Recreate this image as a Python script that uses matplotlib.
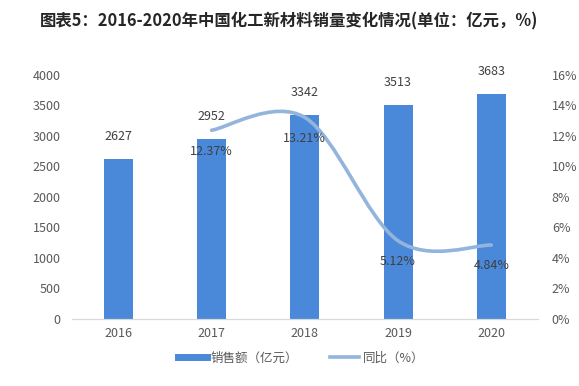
import numpy as np
import matplotlib
matplotlib.use('Agg')
import matplotlib.pyplot as plt
from matplotlib.path import Path
from matplotlib.patches import PathPatch
from matplotlib.lines import Line2D

plt.rcParams['font.family'] = ['Noto Sans CJK SC', 'DejaVu Sans']

# Data
years = ['2016', '2017', '2018', '2019', '2020']
sales = [2627, 2952, 3342, 3513, 3683]
growth_years = [1, 2, 3, 4]          # index into years
growth = [12.37, 13.21, 5.12, 4.84]  # %

BAR_COLOR = '#4a88da'
LINE_COLOR = '#93b4dc'
TEXT_COLOR = '#595959'

fig = plt.figure(figsize=(5.79, 3.86), dpi=100)
ax = fig.add_axes([0.124, 0.174, 0.805, 0.632])
ax2 = ax.twinx()

x = np.arange(len(years))
ax.bar(x, sales, width=0.31, color=BAR_COLOR, zorder=2)
for xi, v in zip(x, sales):
    ax.annotate(str(v), (xi, v), xytext=(0, 16), textcoords='offset points',
                ha='center', va='center', fontsize=9, color='#404040')

ax.set_xlim(-0.5, 4.5)
ax.set_ylim(0, 4000)
ax.set_yticks(range(0, 4001, 500))
ax.set_xticks(x)
ax.set_xticklabels(years)

# smooth line (Catmull-Rom style bezier through the points)
gx = np.array(growth_years, dtype=float)
gy = np.array(growth, dtype=float)
px = np.concatenate([[gx[0]], gx, [gx[-1]]])
py = np.concatenate([[gy[0]], gy, [gy[-1]]])
verts = [(gx[0], gy[0])]
codes = [Path.MOVETO]
t = 1 / 6
for i in range(1, len(px) - 2):
    p0 = np.array([px[i - 1], py[i - 1]])
    p1 = np.array([px[i], py[i]])
    p2 = np.array([px[i + 1], py[i + 1]])
    p3 = np.array([px[i + 2], py[i + 2]])
    c1 = p1 + (p2 - p0) * t
    c2 = p2 - (p3 - p1) * t
    verts += [tuple(c1), tuple(c2), tuple(p2)]
    codes += [Path.CURVE4] * 3
ax2.add_patch(PathPatch(Path(verts, codes), facecolor='none', edgecolor=LINE_COLOR,
                        lw=2.6, capstyle='round', zorder=3))
for xi, v in zip(gx, gy):
    ax2.annotate(f'{v:.2f}%', (xi, v), xytext=(0, -15), textcoords='offset points',
                 ha='center', va='center', fontsize=9, color='#404040')
ax2.set_ylim(0, 16)
ax2.set_yticks(range(0, 17, 2))
ax2.set_yticklabels([f'{v}%' for v in range(0, 17, 2)])

for a in (ax, ax2):
    for s in ['top', 'left', 'right']:
        a.spines[s].set_visible(False)
    a.spines['bottom'].set_color('#d9d9d9')
    a.tick_params(length=0, labelsize=9, labelcolor=TEXT_COLOR)
ax.tick_params(axis='y', pad=8)
ax2.tick_params(axis='y', pad=10)
ax.tick_params(axis='x', pad=6)

fig.text(0.5, 0.945, '图表5：2016-2020年中国化工新材料销量变化情况(单位：亿元，%)',
         ha='center', va='center', fontsize=11.8, fontweight='bold', color='#262626')

handles = [Line2D([0], [0], color=BAR_COLOR, lw=5),
           Line2D([0], [0], color=LINE_COLOR, lw=2.6)]
fig.legend(handles, ['销售额（亿元）', '同比（%）'], loc='center', bbox_to_anchor=(0.52, 0.073),
           ncol=2, frameon=False, fontsize=9, labelcolor=TEXT_COLOR,
           handlelength=2.3, columnspacing=2.6, handletextpad=0.3)

fig.savefig('out.png', dpi=100)
